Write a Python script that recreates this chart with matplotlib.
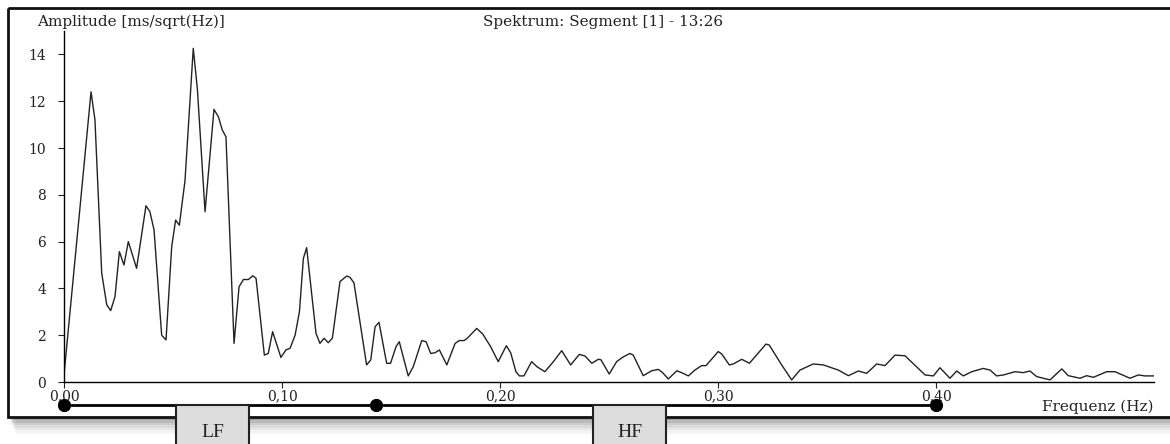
import numpy as np
import matplotlib
matplotlib.use("Agg")
import matplotlib.pyplot as plt
from matplotlib.patches import Rectangle
from matplotlib.transforms import blended_transform_factory

# spectrum (Hz, ms/sqrt(Hz))
freq = [0.000, 0.0124, 0.0142, 0.0173, 0.0196, 0.0214, 0.0234, 0.0254, 0.0275, 0.0295,
        0.0333, 0.0376, 0.0394, 0.0413, 0.0448, 0.0468, 0.0494, 0.0512, 0.0529, 0.0555,
        0.0593, 0.0612, 0.0647, 0.0688, 0.0708, 0.0726, 0.0743, 0.0780, 0.0803, 0.0823,
        0.0846, 0.0866, 0.0881, 0.0919, 0.0937, 0.0957, 0.0995, 0.1018, 0.1037, 0.1060,
        0.1080, 0.1098, 0.1113, 0.1156, 0.1174, 0.1193, 0.1212, 0.1231, 0.1266, 0.1297,
        0.1312, 0.1330, 0.1388, 0.1407, 0.1427, 0.1445, 0.1480, 0.1498, 0.1523, 0.1538,
        0.1579, 0.1602, 0.1641, 0.1661, 0.1682, 0.1702, 0.1722, 0.1756, 0.1794, 0.1813,
        0.1835, 0.1850, 0.1893, 0.1921, 0.1957, 0.1992, 0.2029, 0.2049, 0.2073, 0.2089,
        0.2110, 0.2145, 0.2170, 0.2206, 0.2245, 0.2283, 0.2324, 0.2364, 0.2390, 0.2421,
        0.2451, 0.2463, 0.2501, 0.2535, 0.2563, 0.2596, 0.2611, 0.2657, 0.2696, 0.2726,
        0.2746, 0.2772, 0.2811, 0.2833, 0.2864, 0.2894, 0.2925, 0.2945, 0.3001, 0.3017,
        0.3052, 0.3070, 0.3109, 0.3144, 0.3220, 0.3235, 0.3292, 0.3338, 0.3376, 0.3437,
        0.3483, 0.3552, 0.3598, 0.3644, 0.3682, 0.3728, 0.3766, 0.3812, 0.3858, 0.3911,
        0.3950, 0.3988, 0.4018, 0.4064, 0.4095, 0.4125, 0.4164, 0.4217, 0.4248, 0.4278,
        0.4309, 0.4362, 0.4400, 0.4431, 0.4462, 0.4523, 0.4577, 0.4607, 0.4661, 0.4691,
        0.4722, 0.4783, 0.4821, 0.4890, 0.4928, 0.4959, 0.4997]
amp = [0.30, 12.40, 11.20, 4.65, 3.30, 3.05, 3.65, 5.57, 5.00, 6.00,
       4.86, 7.53, 7.28, 6.50, 2.00, 1.80, 5.78, 6.92, 6.70, 8.60,
       14.26, 12.50, 7.28, 11.65, 11.34, 10.77, 10.48, 1.65, 4.07, 4.38,
       4.38, 4.54, 4.43, 1.15, 1.22, 2.15, 1.05, 1.37, 1.44, 2.00,
       3.00, 5.28, 5.74, 2.08, 1.65, 1.87, 1.68, 1.87, 4.29, 4.53,
       4.47, 4.24, 0.73, 0.94, 2.36, 2.55, 0.80, 0.80, 1.51, 1.72,
       0.26, 0.65, 1.77, 1.72, 1.22, 1.25, 1.37, 0.73, 1.65, 1.77,
       1.77, 1.87, 2.29, 2.05, 1.51, 0.87, 1.55, 1.25, 0.44, 0.26,
       0.26, 0.87, 0.65, 0.44, 0.87, 1.34, 0.73, 1.18, 1.11, 0.80,
       0.97, 0.95, 0.34, 0.87, 1.06, 1.22, 1.15, 0.27, 0.48, 0.54,
       0.40, 0.13, 0.48, 0.40, 0.26, 0.51, 0.70, 0.70, 1.30, 1.20,
       0.73, 0.77, 0.97, 0.80, 1.62, 1.58, 0.73, 0.09, 0.51, 0.77,
       0.73, 0.51, 0.27, 0.47, 0.37, 0.77, 0.70, 1.15, 1.12, 0.65,
       0.30, 0.26, 0.61, 0.16, 0.47, 0.26, 0.44, 0.58, 0.51, 0.26,
       0.30, 0.44, 0.40, 0.47, 0.23, 0.09, 0.56, 0.27, 0.16, 0.27,
       0.20, 0.44, 0.44, 0.16, 0.30, 0.26, 0.26]

xticks = [0.0, 0.1, 0.2, 0.3, 0.4]
xticklabels = ["0,00", "0,10", "0,20", "0,30", "0,40"]
yticks = [0, 2, 4, 6, 8, 10, 12, 14]
band_edges = [0.0, 0.143, 0.40]   # LF / HF markers under the axis

W, H = 1170, 444
fig = plt.figure(figsize=(W / 100, H / 100), dpi=100, facecolor="white")
plt.rcParams["font.family"] = ["DejaVu Serif"]

# main plot, placed in pixels
x0, x1, y0, y1 = 64, 1154, 382, 31
ax = fig.add_axes([x0 / W, (H - y0) / H, (x1 - x0) / W, (y0 - y1) / H])
ax.set_facecolor("none")
ax.plot(freq, amp, color="#222222", lw=1.0)
ax.set_xlim(0, 0.5)
ax.set_ylim(0, 15)
for s in ["top", "right"]:
    ax.spines[s].set_visible(False)
ax.spines["left"].set_linewidth(1.0)
ax.spines["bottom"].set_linewidth(1.0)
ax.set_xticks(xticks)
ax.set_xticklabels(xticklabels)
ax.set_yticks(yticks)
ax.tick_params(axis="both", length=4, width=0.8, labelsize=10, colors="#222222")
ax.tick_params(axis="y", pad=9)
ax.tick_params(axis="x", pad=1)

# band bar with dots
tr = blended_transform_factory(ax.transData, ax.transAxes)
ax.plot([band_edges[0], band_edges[-1]], [-0.066, -0.066], color="black", lw=2,
        transform=tr, clip_on=False)
ax.plot(band_edges, [-0.066] * len(band_edges), "o", color="black", ms=8.5,
        transform=tr, clip_on=False)

# overlay in pixel coords for frame, texts and boxes
ov = fig.add_axes([0, 0, 1, 1], zorder=5)
ov.set_xlim(0, W)
ov.set_ylim(H, 0)
ov.axis("off")
ov.patch.set_alpha(0)

# shadow under the frame
for i, a in enumerate([0.12, 0.09, 0.07, 0.05, 0.04, 0.03, 0.02]):
    ov.add_patch(Rectangle((10 + i, 417), W, 3 + i * 2.5, color="black", alpha=a, lw=0))
ov.add_patch(Rectangle((8, 8), W + 10, 409, fill=False, ec="#111111", lw=2))

ov.text(37, 22, "Amplitude [ms/sqrt(Hz)]", fontsize=11, va="center", ha="left", color="#222222")
ov.text(483, 22, "Spektrum: Segment [1] - 13:26", fontsize=11, va="center", ha="left", color="#222222")
ov.text(1153, 407, "Frequenz (Hz)", fontsize=11, va="center", ha="right", color="#222222")

for bx, lab in [(176, "LF"), (593, "HF")]:
    ov.add_patch(Rectangle((bx, 405), 73, 45, fc="#dddddd", ec="#222222", lw=1.5))
    ov.text(bx + 36.5, 432, lab, fontsize=14, ha="center", va="center",
            family="Liberation Serif", color="#222222")

fig.savefig("out.png", dpi=100, facecolor="white")
